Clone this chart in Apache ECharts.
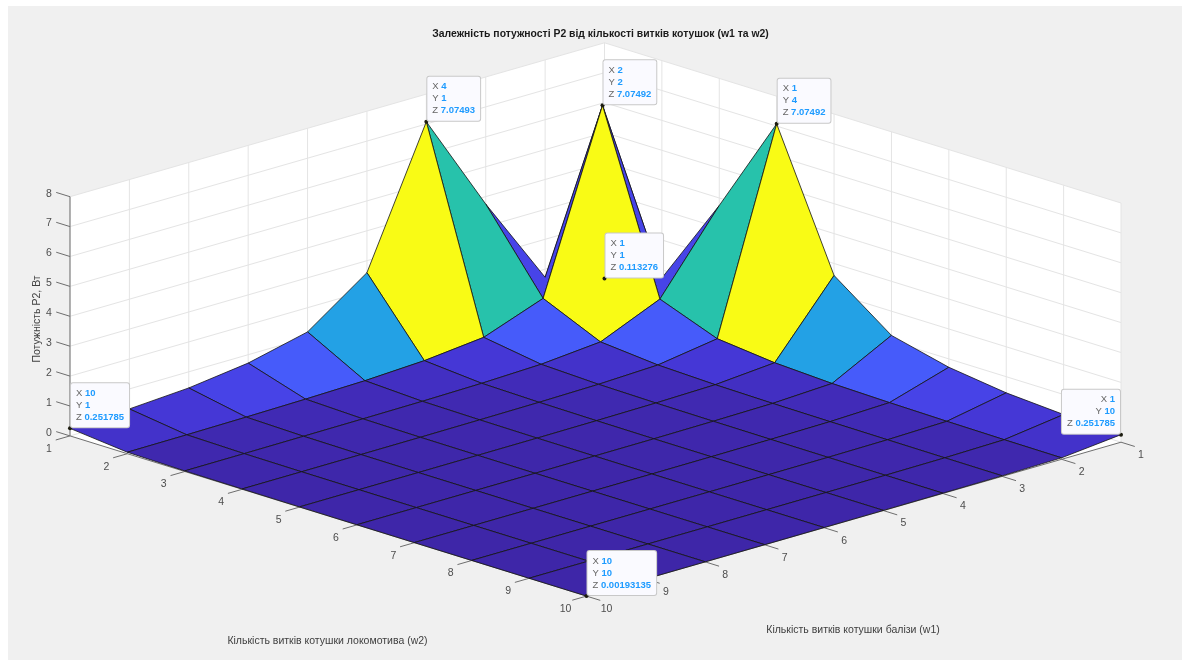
<!DOCTYPE html>
<html>
<head>
<meta charset="utf-8">
<title>P2</title>
<style>
    html, body { margin: 0; padding: 0; background: #ffffff; }
    #chart { width: 1182px; height: 660px; }
</style>
<script src="https://cdn.jsdelivr.net/npm/echarts@6/dist/echarts.min.js"></script>
</head>
<body>
<div id="chart"></div>
<script type="text/javascript">
    const xTicks = [1, 2, 3, 4, 5, 6, 7, 8, 9, 10];
    const yTicks = [1, 2, 3, 4, 5, 6, 7, 8, 9, 10];
    const zTicks = [0, 1, 2, 3, 4, 5, 6, 7, 8];

    // rows are y = 1..10, columns are x = 1..10
    const zRows = [
        [0.113276, 0.73, 3.75, 7.07493, 2.6, 1.19, 0.72, 0.46, 0.33, 0.251785],
        [0.73, 7.07492, 1.19, 0.46, 0.2518, 0.154, 0.11, 0.08, 0.06, 0.05],
        [3.75, 1.19, 0.33, 0.154, 0.09, 0.06, 0.045, 0.035, 0.026, 0.02],
        [7.07492, 0.46, 0.154, 0.08, 0.05, 0.035, 0.024, 0.019, 0.015, 0.012],
        [2.6, 0.2518, 0.09, 0.05, 0.03, 0.02, 0.016, 0.012, 0.01, 0.008],
        [1.19, 0.154, 0.06, 0.035, 0.02, 0.015, 0.011, 0.009, 0.007, 0.006],
        [0.72, 0.11, 0.045, 0.024, 0.016, 0.011, 0.0085, 0.0065, 0.0055, 0.0045],
        [0.46, 0.08, 0.035, 0.019, 0.012, 0.009, 0.0065, 0.005, 0.004, 0.0033],
        [0.33, 0.06, 0.026, 0.015, 0.01, 0.007, 0.0055, 0.004, 0.0032, 0.0025],
        [0.251785, 0.05, 0.02, 0.012, 0.008, 0.006, 0.0045, 0.0033, 0.0025, 0.00193135]
    ];

    // data tips
    const tipX = [4, 2, 1, 1, 10, 10, 1];
    const tipY = [1, 2, 4, 1, 1, 10, 10];
    const tipZ = ['7.07493', '7.07492', '7.07492', '0.113276', '0.251785', '0.00193135', '0.251785'];

    const titleText = 'Залежність потужності Р2 від кількості витків котушок (w1 та w2)';
    const zName = 'Потужність Р2, Вт';
    const yName = 'Кількість витків котушки локомотива (w2)';
    const xName = 'Кількість витків котушки балізи (w1)';

    const parula = [
        [0.2422, 0.1504, 0.6603], [0.2504, 0.1650, 0.7076], [0.2578, 0.1818, 0.7511], [0.2647, 0.1978, 0.7952],
        [0.2706, 0.2147, 0.8364], [0.2751, 0.2342, 0.8710], [0.2783, 0.2559, 0.8991], [0.2803, 0.2782, 0.9221],
        [0.2813, 0.3006, 0.9414], [0.2810, 0.3228, 0.9579], [0.2795, 0.3447, 0.9717], [0.2760, 0.3667, 0.9829],
        [0.2699, 0.3892, 0.9906], [0.2602, 0.4123, 0.9952], [0.2440, 0.4358, 0.9988], [0.2206, 0.4603, 0.9973],
        [0.1963, 0.4847, 0.9892], [0.1834, 0.5074, 0.9798], [0.1786, 0.5289, 0.9682], [0.1764, 0.5499, 0.9520],
        [0.1687, 0.5703, 0.9359], [0.1540, 0.5902, 0.9218], [0.1460, 0.6091, 0.9079], [0.1380, 0.6276, 0.8973],
        [0.1248, 0.6459, 0.8883], [0.1113, 0.6635, 0.8763], [0.0952, 0.6798, 0.8598], [0.0689, 0.6948, 0.8394],
        [0.0297, 0.7082, 0.8163], [0.0036, 0.7203, 0.7917], [0.0067, 0.7312, 0.7660], [0.0433, 0.7411, 0.7394],
        [0.0964, 0.7500, 0.7120], [0.1408, 0.7584, 0.6842], [0.1717, 0.7670, 0.6554], [0.1938, 0.7758, 0.6251],
        [0.2161, 0.7843, 0.5923], [0.2470, 0.7918, 0.5567], [0.2906, 0.7973, 0.5188], [0.3406, 0.8008, 0.4789],
        [0.3909, 0.8029, 0.4354], [0.4456, 0.8024, 0.3909], [0.5044, 0.7993, 0.3480], [0.5616, 0.7942, 0.3045],
        [0.6174, 0.7876, 0.2612], [0.6720, 0.7793, 0.2227], [0.7242, 0.7698, 0.1910], [0.7738, 0.7598, 0.1646],
        [0.8203, 0.7498, 0.1535], [0.8634, 0.7406, 0.1596], [0.9035, 0.7330, 0.1774], [0.9393, 0.7288, 0.2100],
        [0.9728, 0.7298, 0.2394], [0.9956, 0.7434, 0.2371], [0.9970, 0.7659, 0.2199], [0.9952, 0.7861, 0.1963],
        [0.9892, 0.8086, 0.1827], [0.9786, 0.8292, 0.1764], [0.9676, 0.8515, 0.1690], [0.9610, 0.8741, 0.1543],
        [0.9597, 0.8989, 0.1377], [0.9637, 0.9248, 0.1216], [0.9691, 0.9519, 0.1017], [0.9769, 0.9839, 0.0805]
    ];

    // the 3d view: where x=1,y=1,z=0 lands and what one unit of each axis moves on the page
    const view = {
        origin: [604.5, 282],
        xStep: [-59.39, 17.1],
        yStep: [57.39, 17.8],
        zStep: 29.9
    };

    const FONT = '"Liberation Sans", Arial, sans-serif';
    const GRID_COLOR = '#e4e4e4';
    const AXIS_COLOR = '#6e6e6e';
    const TEXT_COLOR = '#4d4d4d';
    const NAME_COLOR = '#404040';

    function project(x, y, z) {
        return [
            view.origin[0] + (x - 1) * view.xStep[0] + (y - 1) * view.yStep[0],
            view.origin[1] + (x - 1) * view.xStep[1] + (y - 1) * view.yStep[1] - z * view.zStep
        ];
    }

    function lineEl(api, a, b, color, width) {
        let p1 = api.coord(a), p2 = api.coord(b);
        return {
            type: 'line',
            shape: {x1: p1[0], y1: p1[1], x2: p2[0], y2: p2[1]},
            style: {stroke: color, lineWidth: width}
        };
    }

    function tickLabel(api, at, text, dx, dy) {
        let p = api.coord(at);
        return {
            type: 'text',
            style: {
                x: p[0] + dx, y: p[1] + dy, text: String(text),
                fill: TEXT_COLOR, font: '10.5px ' + FONT,
                align: 'center', verticalAlign: 'middle'
            }
        };
    }

    // walls, grid lines, axes, ticks and tick labels
    function renderBox(params, api) {
        let kids = [];
        let xMin = xTicks[0], xMax = xTicks[xTicks.length - 1];
        let yMin = yTicks[0], yMax = yTicks[yTicks.length - 1];
        let zMin = zTicks[0], zMax = zTicks[zTicks.length - 1];

        let wall = [
            project(xMax, yMin, zMin), project(xMax, yMin, zMax), project(xMin, yMin, zMax),
            project(xMin, yMax, zMax), project(xMin, yMax, zMin), project(xMax, yMax, zMin)
        ];
        kids.push({type: 'polygon', shape: {points: wall.map(p => api.coord(p))}, style: {fill: '#ffffff'}});

        xTicks.forEach(x => {
            kids.push(lineEl(api, project(x, yMin, zMin), project(x, yMin, zMax), GRID_COLOR, 1));
        });
        yTicks.forEach(y => {
            kids.push(lineEl(api, project(xMin, y, zMin), project(xMin, y, zMax), GRID_COLOR, 1));
        });
        zTicks.forEach(z => {
            kids.push(lineEl(api, project(xMax, yMin, z), project(xMin, yMin, z), GRID_COLOR, 1));
            kids.push(lineEl(api, project(xMin, yMin, z), project(xMin, yMax, z), GRID_COLOR, 1));
        });

        // axis lines
        kids.push(lineEl(api, project(xMax, yMin, zMin), project(xMax, yMin, zMax), AXIS_COLOR, 1));
        kids.push(lineEl(api, project(xMax, yMin, zMin), project(xMax, yMax, zMin), AXIS_COLOR, 1));
        kids.push(lineEl(api, project(xMin, yMax, zMin), project(xMax, yMax, zMin), AXIS_COLOR, 1));

        zTicks.forEach(z => {
            kids.push(lineEl(api, project(xMax, yMin, z), project(xMax, yMin - 0.24, z), AXIS_COLOR, 1));
            kids.push(tickLabel(api, project(xMax, yMin, z), z, -21, -3));
        });
        yTicks.forEach(y => {
            kids.push(lineEl(api, project(xMax, y, zMin), project(xMax + 0.24, y, zMin), AXIS_COLOR, 1));
            kids.push(tickLabel(api, project(xMax, y, zMin), y, -21, 13));
        });
        xTicks.forEach(x => {
            kids.push(lineEl(api, project(x, yMax, zMin), project(x, yMax + 0.24, zMin), AXIS_COLOR, 1));
            kids.push(tickLabel(api, project(x, yMax, zMin), x, 20, 13));
        });
        return {type: 'group', children: kids};
    }

    // flat faces, each one coloured from its lowest index corner like MATLAB surf
    const faces = [];
    for (let i = 0; i < xTicks.length - 1; i++) {
        for (let j = 0; j < yTicks.length - 1; j++) {
            faces.push([i, j, zRows[j][i]]);
        }
    }
    faces.sort((a, b) => (a[0] + a[1]) - (b[0] + b[1]));

    function renderFace(params, api) {
        let i = api.value(0), j = api.value(1);
        let corners = [[i, j], [i + 1, j], [i + 1, j + 1], [i, j + 1]];
        let points = corners.map(c => api.coord(project(xTicks[c[0]], yTicks[c[1]], zRows[c[1]][c[0]])));
        return {
            type: 'polygon',
            shape: {points: points},
            style: {fill: api.visual('color'), stroke: '#141414', lineWidth: 0.8, lineJoin: 'round'}
        };
    }

    function renderTip(params, api) {
        let n = params.dataIndex;
        let p = api.coord(project(tipX[n], tipY[n], zRows[tipY[n] - 1][tipX[n] - 1]));
        let toLeft = tipX[n] === 1 && tipY[n] === 10;
        let side = toLeft ? 'right' : 'left';
        let rowStyle = {lineHeight: 12, fontSize: 9.5, fontFamily: FONT, align: side};
        return {
            type: 'group',
            children: [{
                type: 'text',
                z2: 2,
                style: {
                    x: p[0] + (toLeft ? -1 : 1),
                    y: p[1] - 1,
                    align: side,
                    verticalAlign: 'bottom',
                    text: '{k|X }{v|' + tipX[n] + '}\n{k|Y }{v|' + tipY[n] + '}\n{k|Z }{v|' + tipZ[n] + '}',
                    backgroundColor: '#fafaff',
                    borderColor: '#c8c8c8',
                    borderWidth: 1,
                    borderRadius: 2,
                    padding: [4, 5, 4, 5],
                    rich: {
                        k: Object.assign({fill: '#666666', color: '#666666'}, rowStyle),
                        v: Object.assign({fill: '#1e9bff', color: '#1e9bff', fontWeight: 'bold'}, rowStyle)
                    }
                }
            }, {
                type: 'circle',
                shape: {cx: p[0], cy: p[1], r: 2},
                style: {fill: '#1c1c10'}
            }]
        };
    }

    let chart = echarts.init(document.getElementById('chart'), null, {renderer: 'canvas'});
    chart.setOption({
        animation: false,
        backgroundColor: '#ffffff',
        title: {
            text: titleText,
            left: 595.5,
            top: 24,
            textAlign: 'center',
            textStyle: {fontFamily: FONT, fontSize: 10.4, fontWeight: 'bold', color: '#1a1a1a'}
        },
        grid: {left: 0, right: 0, top: 0, bottom: 0},
        xAxis: {type: 'value', min: 0, max: 1182, show: false},
        yAxis: {type: 'value', min: 0, max: 660, inverse: true, show: false},
        visualMap: {
            show: false,
            type: 'continuous',
            seriesIndex: 1,
            dimension: 2,
            min: 0.00193135,
            max: 7.07493,
            inRange: {color: parula.map(c => 'rgb(' + c.map(v => Math.round(v * 255)).join(',') + ')')}
        },
        graphic: [
            {type: 'rect', shape: {x: 8, y: 6, width: 1174, height: 654}, style: {fill: '#f0f0f0'}, z: -1},
            {
                type: 'text', x: 37, y: 319, rotation: Math.PI / 2,
                style: {text: zName, font: '10.5px ' + FONT, fill: NAME_COLOR, align: 'center', verticalAlign: 'middle'}
            },
            {
                type: 'text', x: 327.5, y: 641,
                style: {text: yName, font: '10.5px ' + FONT, fill: NAME_COLOR, align: 'center', verticalAlign: 'middle'}
            },
            {
                type: 'text', x: 853, y: 630,
                style: {text: xName, font: '10.5px ' + FONT, fill: NAME_COLOR, align: 'center', verticalAlign: 'middle'}
            }
        ],
        series: [
            {type: 'custom', silent: true, clip: false, renderItem: renderBox, data: [[0, 0]], z: 2},
            {
                type: 'custom', silent: true, clip: false, renderItem: renderFace, data: faces, z: 3,
                encode: {x: 0, y: 1}
            },
            {
                type: 'custom', silent: true, clip: false, renderItem: renderTip,
                data: tipX.map((x, n) => [x, tipY[n]]), z: 4
            }
        ]
    });
</script>
</body>
</html>
